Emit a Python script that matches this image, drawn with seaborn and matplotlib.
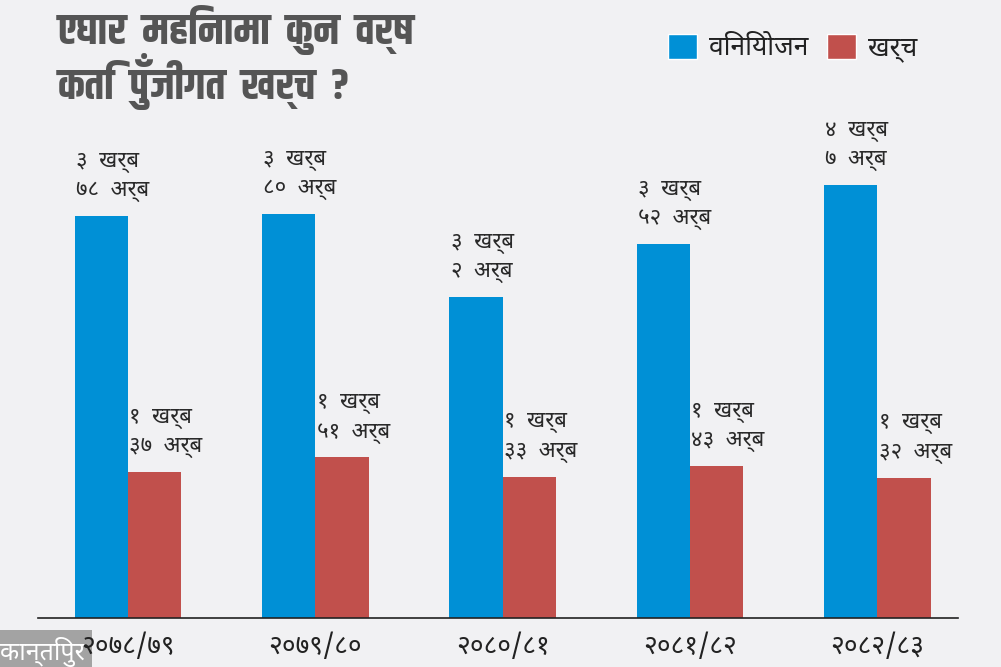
import matplotlib
matplotlib.use("Agg")
import matplotlib.pyplot as plt
from matplotlib import font_manager as fm
from matplotlib.patches import Patch
import seaborn as sns
import pandas as pd

# data (values in arba = billion rupees)
years = ["२०७८/७९", "२०७९/८०", "२०८०/८१", "२०८१/८२", "२०८२/८३"]
investment = [378, 380, 302, 352, 407]
spending = [137, 151, 133, 143, 132]
investment_labels = ["३  खर्ब\n७८  अर्ब", "३  खर्ब\n८०  अर्ब", "३  खर्ब\n२  अर्ब", "३  खर्ब\n५२  अर्ब", "४  खर्ब\n७  अर्ब"]
spending_labels = ["१  खर्ब\n३७  अर्ब", "१  खर्ब\n५१  अर्ब", "१  खर्ब\n३३  अर्ब", "१  खर्ब\n४३  अर्ब", "१  खर्ब\n३२  अर्ब"]
series_names = ["विनियोजन", "खर्च"]

BLUE = "#0090d6"
RED = "#c1504c"
BG = "#f1f1f3"

installed = {f.name for f in fm.fontManager.ttflist}


def pick(names):
    return [n for n in names if n in installed] + ["FreeSans", "DejaVu Sans"]


body_fonts = pick(["Noto Sans Devanagari", "Mukta", "Hind", "Amiko"])
title_fonts = pick(["Khand", "Teko", "Rajdhani", "Noto Sans Devanagari"])

sns.set_theme(style="white")
plt.rcParams["font.family"] = body_fonts

df = pd.DataFrame({
    "year": years * 2,
    "value": investment + spending,
    "kind": [series_names[0]] * len(years) + [series_names[1]] * len(years),
})

fig = plt.figure(figsize=(10.01, 6.67), dpi=100, facecolor=BG)
ax = fig.add_axes([0.038, 0.0735, 0.919, 0.765])
ax.set_facecolor(BG)

sns.barplot(data=df, x="year", y="value", hue="kind", palette=[BLUE, RED],
            width=0.57, saturation=1, linewidth=0, ax=ax, legend=False)

ax.set_ylim(0, 480)
ax.set_xlim(-0.48, 4.43)
ax.set_xlabel("")
ax.set_ylabel("")
ax.set_yticks([])
for s in ["top", "right", "left"]:
    ax.spines[s].set_visible(False)
ax.spines["bottom"].set_color("#222222")
ax.spines["bottom"].set_linewidth(1.2)

ax.tick_params(axis="x", which="major", length=0, pad=11, labelsize=19, labelcolor="#222222")
ax.set_xticks([0.5, 1.5, 2.5, 3.5], minor=True)
ax.tick_params(axis="x", which="minor", direction="inout", length=16, width=1.2, color="#222222")

# value labels above bars
bars = ax.patches
labels = investment_labels + spending_labels
for bar, lab in zip(bars, labels):
    ax.annotate(lab, (bar.get_x(), bar.get_height()), xytext=(1, 10),
                textcoords="offset points", ha="left", va="bottom",
                fontsize=16, color="#2a2a2a", linespacing=1.45)

# title
fig.text(0.058, 0.993, "एघार  महिनामा  कुन  वर्ष\nकति  पुँजीगत  खर्च  ?", ha="left", va="top",
         fontsize=31, fontweight="bold", color="#555555", linespacing=0.97,
         family=title_fonts)

# legend
handles = [Patch(facecolor=BLUE, label=series_names[0]),
           Patch(facecolor=RED, label=series_names[1])]
fig.legend(handles=handles, loc="upper right", bbox_to_anchor=(0.94, 0.985), ncol=2,
           frameon=False, fontsize=19, handlelength=1.1, handleheight=1.1,
           columnspacing=0.7, handletextpad=0.45, labelcolor="#222222")

# logo, drawn under the tick labels like in the original
fig.text(0.0, 0.0, "कान्तिपुर", ha="left", va="bottom", fontsize=18, color="white", zorder=-1,
         bbox=dict(boxstyle="square,pad=0.3", facecolor="#a3a3a3", edgecolor="none"))

fig.savefig("out.png", dpi=100, facecolor=BG)
